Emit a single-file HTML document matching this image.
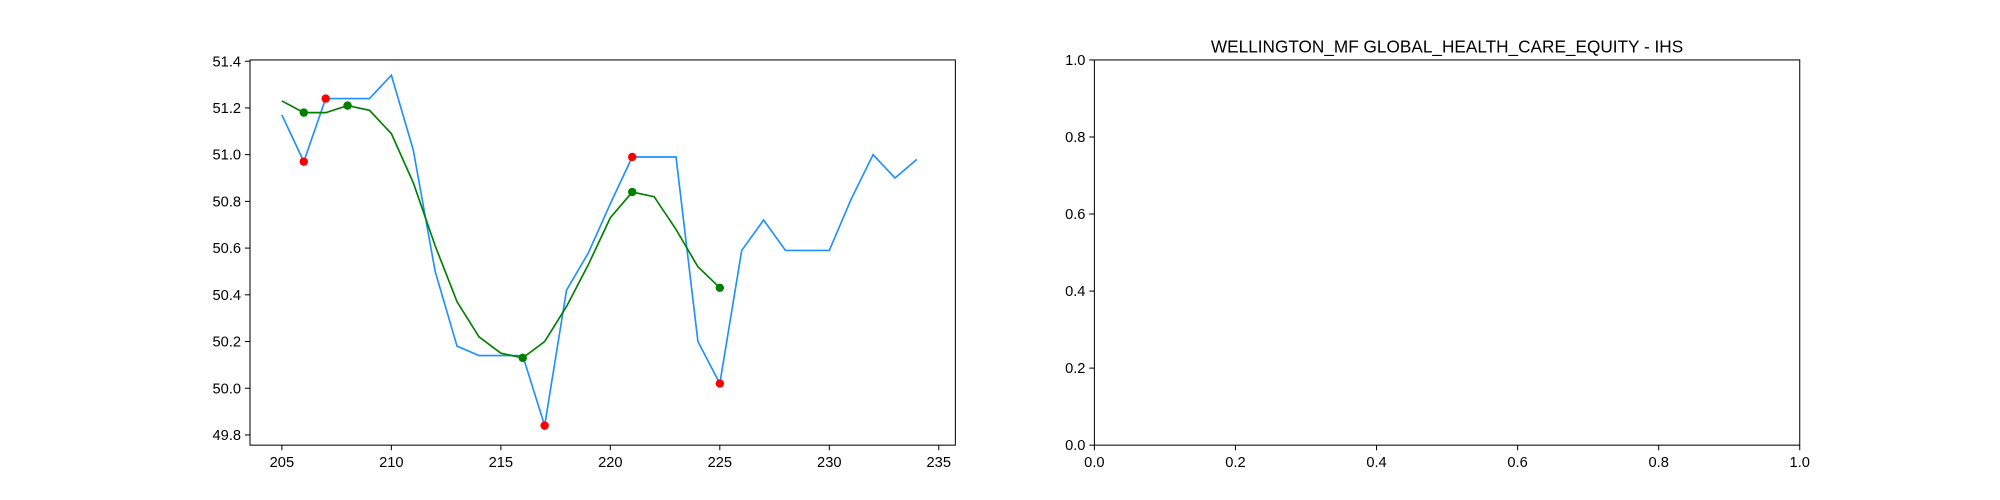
<!DOCTYPE html>
<html><head><meta charset="utf-8"><style>
html,body{margin:0;padding:0;background:#fff;}
svg{display:block;font-family:"Liberation Sans","DejaVu Sans",sans-serif;}
</style></head><body>
<svg id="c" width="2000" height="500" viewBox="0 0 1568 392" preserveAspectRatio="none" xmlns="http://www.w3.org/2000/svg"></svg>
<script>
const blueX=[205,206,207,208,209,210,211,212,213,214,215,216,217,218,219,220,221,222,223,224,225,226,227,228,229,230,231,232,233,234];
const blueY=[51.17,50.97,51.24,51.24,51.24,51.34,51.02,50.50,50.18,50.14,50.14,50.14,49.84,50.42,50.58,50.79,50.99,50.99,50.99,50.20,50.02,50.59,50.72,50.59,50.59,50.59,50.81,51.0,50.90,50.98];
const greenX=[205,206,207,208,209,210,211,212,213,214,215,216,217,218,219,220,221,222,223,224,225];
const greenY=[51.23,51.18,51.18,51.21,51.19,51.09,50.88,50.61,50.37,50.22,50.15,50.13,50.20,50.35,50.53,50.73,50.84,50.82,50.68,50.52,50.43];
const redPtsX=[206,207,217,221,225];
const greenPtsX=[206,208,216,221,225];
const xTicks=[205,210,215,220,225,230,235];
const yTicks=[49.8,50.0,50.2,50.4,50.6,50.8,51.0,51.2,51.4];
const rTicks=[0.0,0.2,0.4,0.6,0.8,1.0];
const title="WELLINGTON_MF GLOBAL_HEALTH_CARE_EQUITY - IHS";

const NS="http://www.w3.org/2000/svg";
const svg=document.getElementById('c');
function mk(t,a,p){const e=document.createElementNS(NS,t);for(const k in a)e.setAttribute(k,a[k]);(p||svg).appendChild(e);return e;}
const L={x0:196,x1:749,y0:47,y1:349};
const R={x0:858,x1:1411,y0:47,y1:349};
const sx=v=>221+(v-205)*(736-221)/30;
const sy=v=>48+(51.4-v)*(341-48)/1.6;
const rx=v=>R.x0+v*(R.x1-R.x0);
const ry=v=>R.y1-v*(R.y1-R.y0);

function ax(b,name){const r=mk('rect',{x:b.x0,y:b.y0,width:b.x1-b.x0,height:b.y1-b.y0,fill:'none',stroke:'#000','stroke-width':0.8});
}
ax(L,'left-axes-frame');ax(R,'right-axes-frame');

xTicks.forEach(t=>{const x=sx(t);mk('line',{x1:x,x2:x,y1:L.y1,y2:L.y1+4,stroke:'#000','stroke-width':0.8});
const e=mk('text',{x:x,y:L.y1+17,'font-size':11.5,'text-anchor':'middle'});e.textContent=t;
});
yTicks.forEach(t=>{const y=sy(t);mk('line',{x1:L.x0-4,x2:L.x0,y1:y,y2:y,stroke:'#000','stroke-width':0.8});
const e=mk('text',{x:L.x0-7,y:y+4,'font-size':11.5,'text-anchor':'end'});e.textContent=t.toFixed(1);
});
rTicks.forEach(t=>{const x=rx(t);mk('line',{x1:x,x2:x,y1:R.y1,y2:R.y1+4,stroke:'#000','stroke-width':0.8});
let e=mk('text',{x:x,y:R.y1+17,'font-size':11.5,'text-anchor':'middle'});e.textContent=t.toFixed(1);

const y=ry(t);mk('line',{x1:R.x0-4,x2:R.x0,y1:y,y2:y,stroke:'#000','stroke-width':0.8});
e=mk('text',{x:R.x0-7,y:y+4,'font-size':11.5,'text-anchor':'end'});e.textContent=t.toFixed(1);
});
const tt=mk('text',{x:(R.x0+R.x1)/2,y:41,'font-size':13.5,'text-anchor':'middle'});tt.textContent=title;


const bl=mk('polyline',{points:blueX.map((x,i)=>sx(x)+','+sy(blueY[i])).join(' '),fill:'none',stroke:'#1e90ff','stroke-width':1.3});

const gl=mk('polyline',{points:greenX.map((x,i)=>sx(x)+','+sy(greenY[i])).join(' '),fill:'none',stroke:'#008000','stroke-width':1.3});

redPtsX.forEach(x=>{const c=mk('circle',{cx:sx(x),cy:sy(blueY[blueX.indexOf(x)]),r:3.3,fill:'#ff0000'});
});
greenPtsX.forEach(x=>{const c=mk('circle',{cx:sx(x),cy:sy(greenY[greenX.indexOf(x)]),r:3.3,fill:'#008000'});
});
</script>
</body></html>
